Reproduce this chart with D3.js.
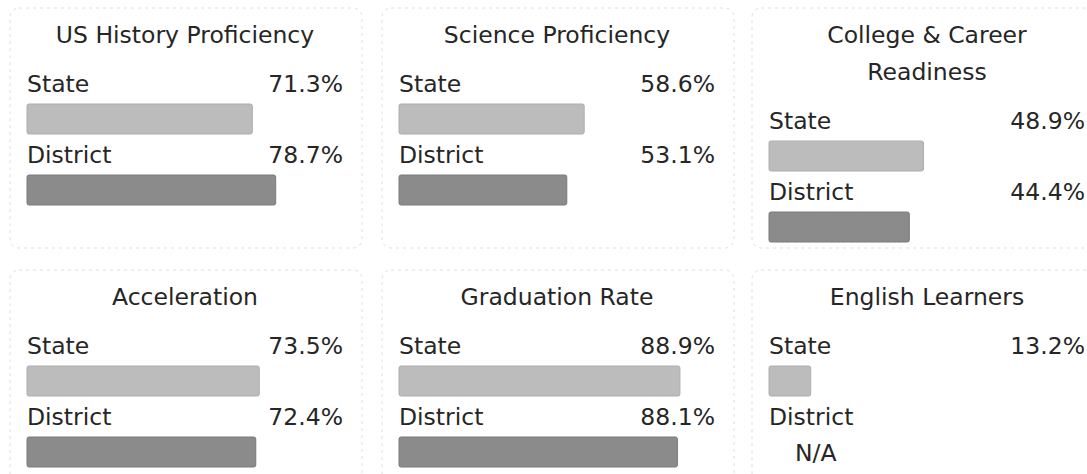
<!DOCTYPE html>
<html>
<head>
<meta charset="utf-8">
<script src="https://cdn.jsdelivr.net/npm/d3@7"></script>
<style>
  html, body { margin: 0; padding: 0; background: #ffffff; }
  svg { display: block; }
  text { font-family: "DejaVu Sans", sans-serif; fill: #262626; }
</style>
</head>
<body>
<svg id="chart" width="1087" height="474"></svg>
<script>
// ---- data ----
const titles = ["US History Proficiency", "Science Proficiency", "College & Career Readiness",
                "Acceleration", "Graduation Rate", "English Learners"];
const seriesLabels = ["State", "District"];
const stateValues = [71.3, 58.6, 48.9, 73.5, 88.9, 13.2];
const districtValues = [78.7, 53.1, 44.4, 72.4, 88.1, null];
const missingLabel = "N/A";

// ---- layout ----
const svg = d3.select("#chart");
const cols = 3;
const cardX = d3.scaleOrdinal().domain([0, 1, 2]).range([10, 382, 752]);
const cardY = d3.scaleOrdinal().domain([0, 1]).range([8, 270]);
const cardW = 352, cardH = 240;
const pad = 17;
const contentW = 316;
const x = d3.scaleLinear().domain([0, 100]).range([0, contentW]);
const fontSize = 23.5;
const titleLine = 37;
const barH = 30;
const colors = ["#bcbcbc", "#8b8b8b"];
const strokes = ["#adadad", "#7a7a7a"];

const fmt = v => v.toFixed(1) + "%";

// measure helper for wrapping
const measurer = svg.append("text").attr("font-size", fontSize).attr("visibility", "hidden");
function wrap(str, maxW) {
  const words = str.split(" ");
  const lines = [];
  let cur = "";
  words.forEach(w => {
    const test = cur ? cur + " " + w : w;
    measurer.text(test);
    if (measurer.node().getComputedTextLength() > maxW && cur) {
      lines.push(cur); cur = w;
    } else cur = test;
  });
  if (cur) lines.push(cur);
  return lines;
}

titles.forEach((t, i) => {
  const c = i % cols, r = Math.floor(i / cols);
  const cx = cardX(c), cy = cardY(r);
  const g = svg.append("g").attr("transform", `translate(${cx},${cy})`);

  g.append("rect")
    .attr("x", 0).attr("y", 0)
    .attr("width", cardW).attr("height", cardH)
    .attr("rx", 9)
    .attr("fill", "none")
    .attr("stroke", "#dedede")
    .attr("stroke-width", 1)
    .attr("stroke-dasharray", "3 4");

  const inner = g.append("g").attr("transform", `translate(${pad},0)`);
  const lines = wrap(t, 305);
  lines.forEach((ln, k) => {
    inner.append("text")
      .attr("x", contentW / 2)
      .attr("y", 35 + k * titleLine)
      .attr("text-anchor", "middle")
      .attr("font-size", fontSize)
      .text(ln);
  });
  const lastTitle = 35 + (lines.length - 1) * titleLine;

  const vals = [stateValues[i], districtValues[i]];
  vals.forEach((v, s) => {
    const base = lastTitle + 49 + s * 71;
    inner.append("text")
      .attr("x", 0).attr("y", base)
      .attr("font-size", fontSize)
      .text(seriesLabels[s]);
    if (v == null) {
      inner.append("text")
        .attr("x", 26).attr("y", base + 36)
        .attr("font-size", fontSize)
        .text(missingLabel);
      return;
    }
    inner.append("text")
      .attr("x", contentW).attr("y", base)
      .attr("text-anchor", "end")
      .attr("font-size", fontSize)
      .text(fmt(v));
    inner.append("rect")
      .attr("x", x(0)).attr("y", base + 12)
      .attr("width", x(v) - x(0)).attr("height", barH)
      .attr("rx", 2)
      .attr("fill", colors[s])
      .attr("stroke", strokes[s])
      .attr("stroke-width", 1);
  });
});
measurer.remove();
</script>
</body>
</html>
